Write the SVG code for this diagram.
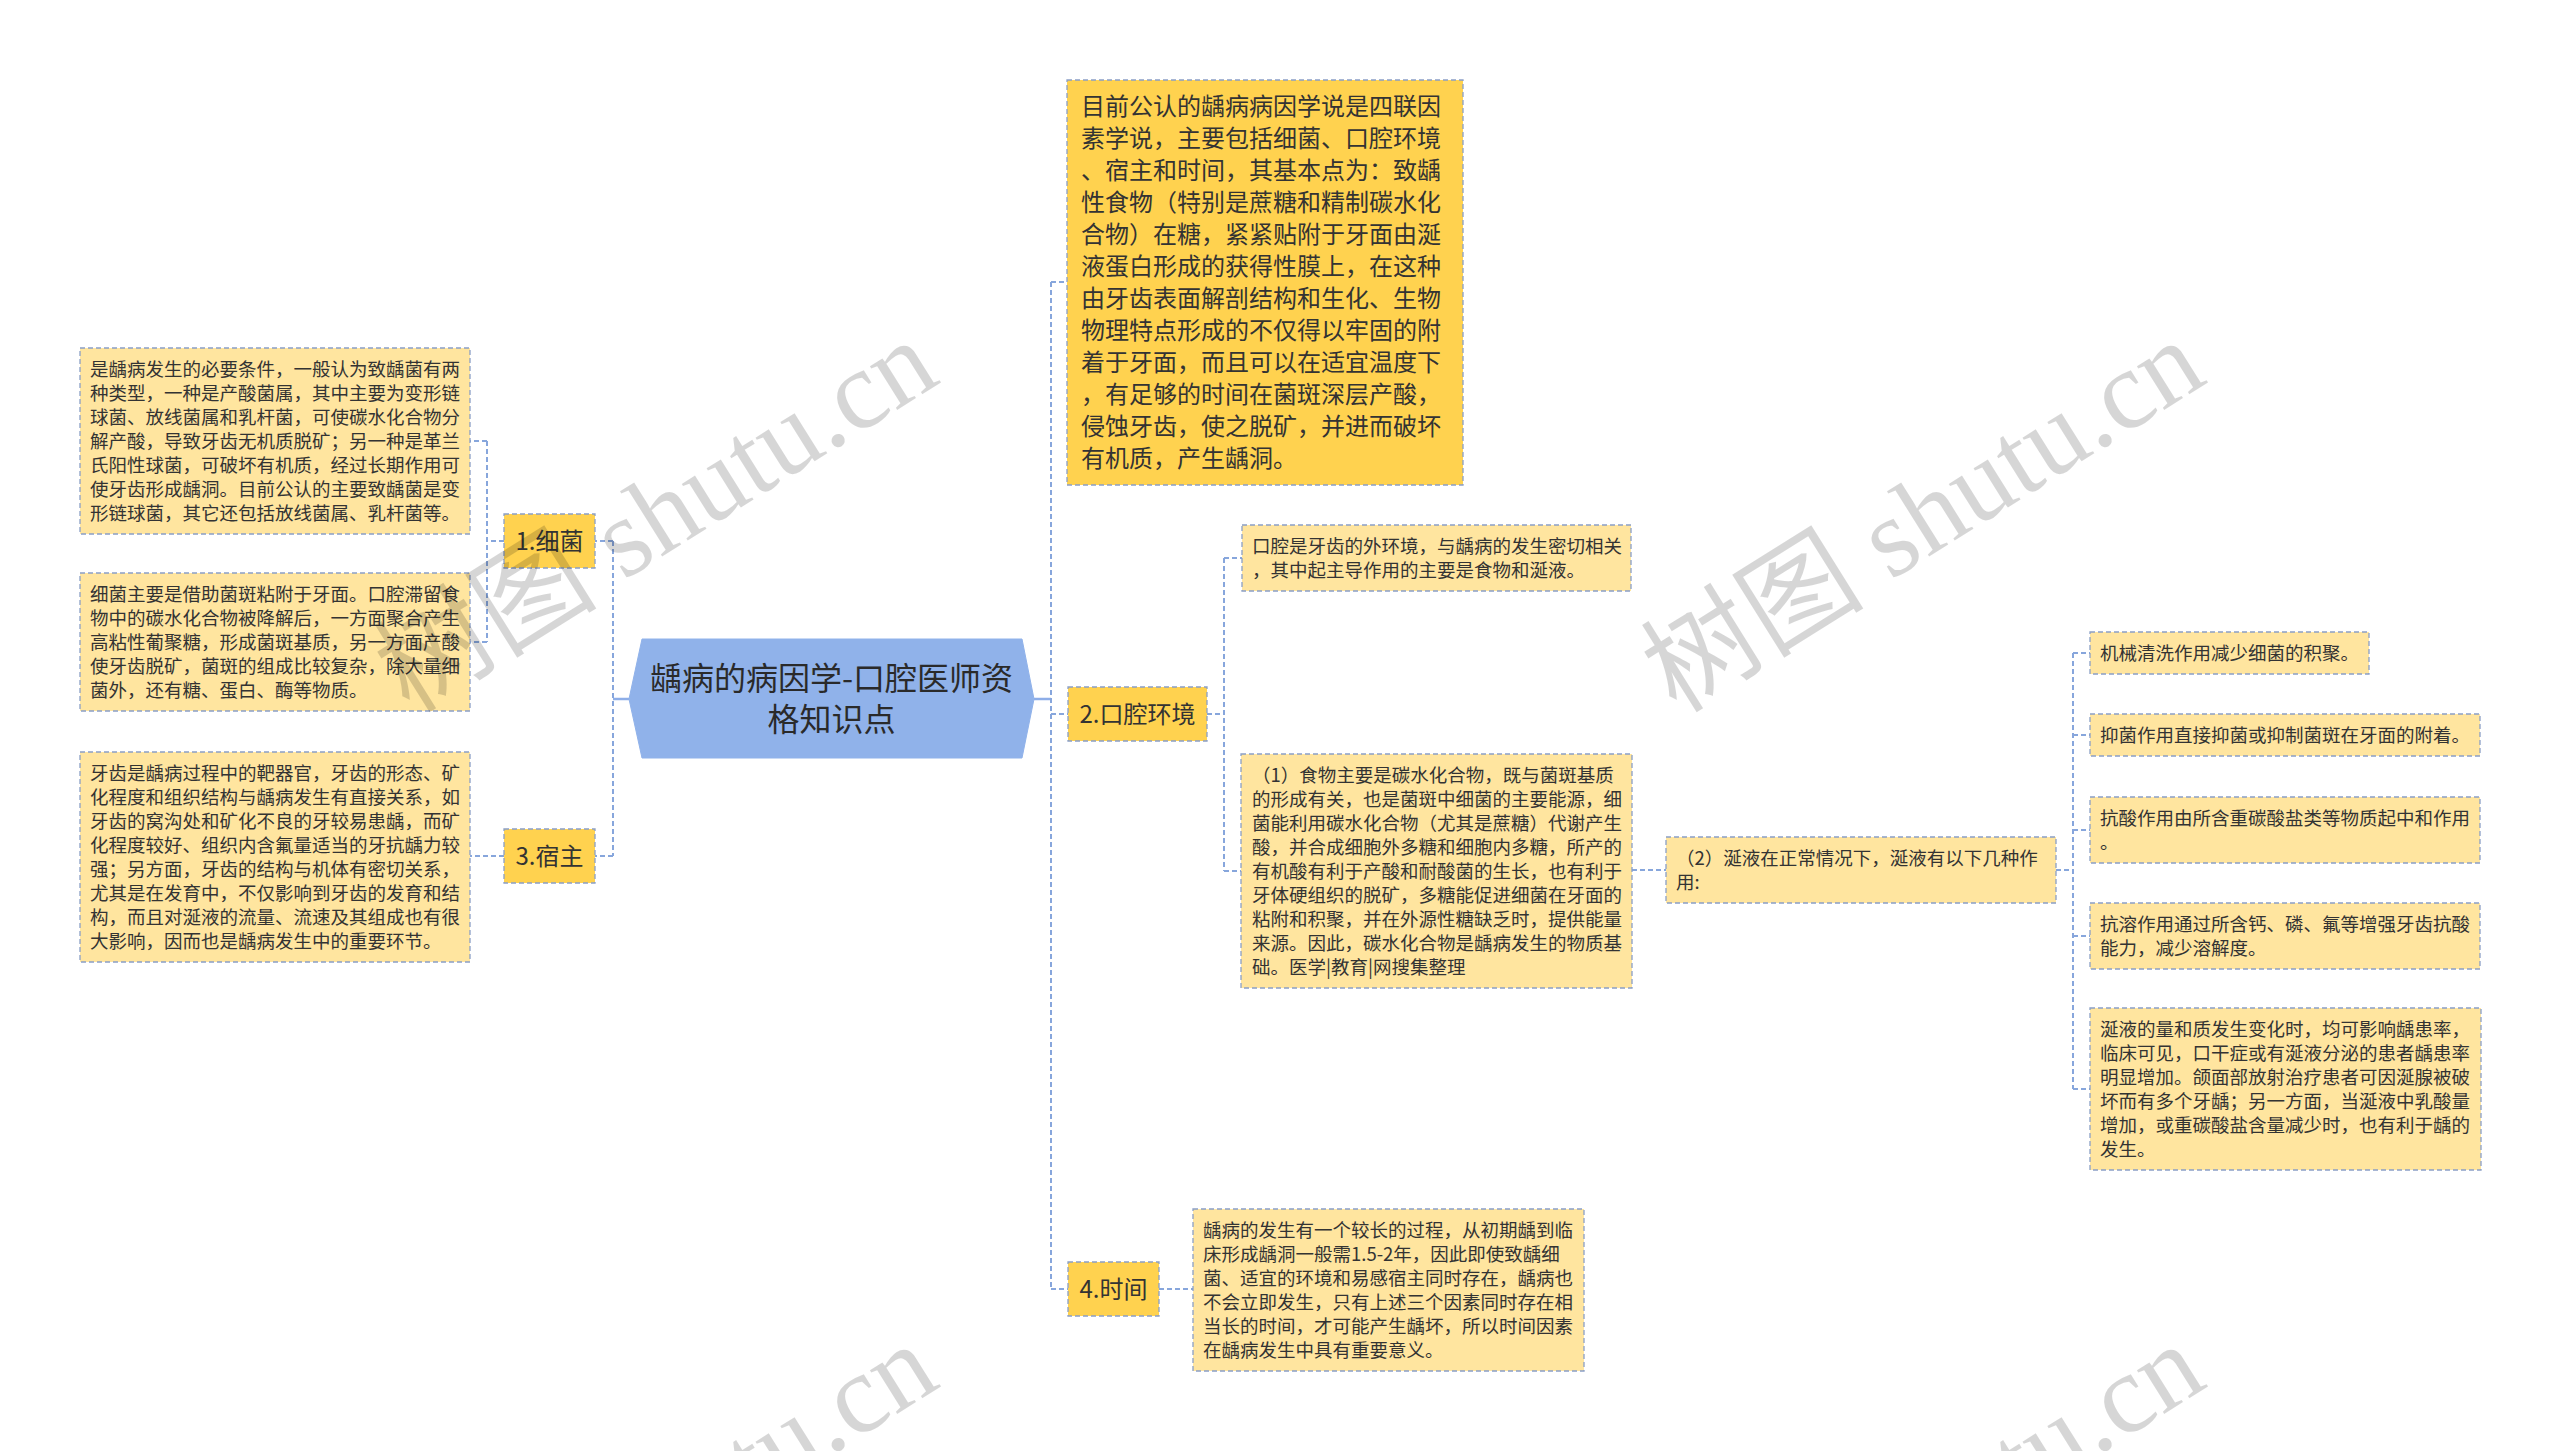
<svg xmlns="http://www.w3.org/2000/svg" width="2560" height="1451" viewBox="0 0 2560 1451">
<style>
.bg{fill:#ffffff}
.lt{fill:#FFE59F;stroke:#8A9FC6;stroke-width:1.3;stroke-dasharray:5 3}
.gd{fill:#FFD24F;stroke:#8A9FC6;stroke-width:1.3;stroke-dasharray:5 3}
.root{fill:#90B2EA;stroke:#90B2EA;stroke-width:1}
.t{font-family:"Microsoft YaHei","Noto Sans CJK SC",sans-serif;font-size:18.5px;fill:#333333}
.t24{font-family:"Microsoft YaHei","Noto Sans CJK SC",sans-serif;font-size:24px;fill:#333333}
.tr{font-family:"Microsoft YaHei","Noto Sans CJK SC",sans-serif;font-size:32px;fill:#2a2a2a}
.c{fill:none;stroke:#87A6DC;stroke-width:2;stroke-dasharray:5 3}
.cs{fill:none;stroke:#8EAEE8;stroke-width:2.5}
.wm{font-family:"Liberation Serif","Noto Sans CJK SC",serif;font-size:112px;fill:#000000;fill-opacity:0.16}
</style>
<rect class="bg" x="0" y="0" width="2560" height="1451"/>

<g id="connectors">
<path class="cs" d="M629,699 H613"/>
<path class="c" d="M613,541 V856"/>
<path class="c" d="M613,541 H595"/>
<path class="c" d="M613,856 H595"/>
<path class="c" d="M504,541 H487"/>
<path class="c" d="M487,441 V642"/>
<path class="c" d="M487,441 H470"/>
<path class="c" d="M487,642 H470"/>
<path class="c" d="M504,856 H470"/>
<path class="cs" d="M1034,699 H1051"/>
<path class="c" d="M1051,282 V1289"/>
<path class="c" d="M1051,282 H1067"/>
<path class="c" d="M1051,714 H1068"/>
<path class="c" d="M1051,1289 H1068"/>
<path class="c" d="M1207,714 H1224"/>
<path class="c" d="M1224,558 V871"/>
<path class="c" d="M1224,558 H1242"/>
<path class="c" d="M1224,871 H1241"/>
<path class="c" d="M1632,870 H1666"/>
<path class="c" d="M2056,870 H2073"/>
<path class="c" d="M2073,653 V1089"/>
<path class="c" d="M2073,653 H2090"/>
<path class="c" d="M2073,735 H2090"/>
<path class="c" d="M2073,830 H2090"/>
<path class="c" d="M2073,936 H2090"/>
<path class="c" d="M2073,1089 H2090"/>
<path class="c" d="M1159,1289 H1193"/>
</g>

<g id="root">
<polygon class="root" points="629,699 642,639 1022,639 1034,699 1022,758 642,758"/>
<text class="tr" text-anchor="middle"><tspan x="831.5" y="689.5">龋病的病因学-口腔医师资</tspan><tspan x="831.5" y="730.5">格知识点</tspan></text>
</g>

<g id="n-bacteria">
<rect class="gd" x="504" y="514" width="91" height="54"/>
<text class="t24" x="549.5" y="549.6" text-anchor="middle">1.细菌</text>
</g>
<g id="n-bacteria-1">
<rect class="lt" x="80" y="348" width="390" height="186"/>
<text class="t"><tspan x="90" y="375.7">是龋病发生的必要条件，一般认为致龋菌有两</tspan><tspan x="90" y="399.7">种类型，一种是产酸菌属，其中主要为变形链</tspan><tspan x="90" y="423.7">球菌、放线菌属和乳杆菌，可使碳水化合物分</tspan><tspan x="90" y="447.7">解产酸，导致牙齿无机质脱矿；另一种是革兰</tspan><tspan x="90" y="471.7">氏阳性球菌，可破坏有机质，经过长期作用可</tspan><tspan x="90" y="495.7">使牙齿形成龋洞。目前公认的主要致龋菌是变</tspan><tspan x="90" y="519.7">形链球菌，其它还包括放线菌属、乳杆菌等。</tspan></text>
</g>
<g id="n-bacteria-2">
<rect class="lt" x="80" y="573" width="390" height="138"/>
<text class="t"><tspan x="90" y="600.7">细菌主要是借助菌斑粘附于牙面。口腔滞留食</tspan><tspan x="90" y="624.7">物中的碳水化合物被降解后，一方面聚合产生</tspan><tspan x="90" y="648.7">高粘性葡聚糖，形成菌斑基质，另一方面产酸</tspan><tspan x="90" y="672.7">使牙齿脱矿，菌斑的组成比较复杂，除大量细</tspan><tspan x="90" y="696.7">菌外，还有糖、蛋白、酶等物质。</tspan></text>
</g>

<g id="n-host">
<rect class="gd" x="504" y="829" width="91" height="54"/>
<text class="t24" x="549.5" y="864.6" text-anchor="middle">3.宿主</text>
</g>
<g id="n-host-1">
<rect class="lt" x="80" y="752" width="390" height="210"/>
<text class="t"><tspan x="90" y="779.7">牙齿是龋病过程中的靶器官，牙齿的形态、矿</tspan><tspan x="90" y="803.7">化程度和组织结构与龋病发生有直接关系，如</tspan><tspan x="90" y="827.7">牙齿的窝沟处和矿化不良的牙较易患龋，而矿</tspan><tspan x="90" y="851.7">化程度较好、组织内含氟量适当的牙抗龋力较</tspan><tspan x="90" y="875.7">强；另方面，牙齿的结构与机体有密切关系，</tspan><tspan x="90" y="899.7">尤其是在发育中，不仅影响到牙齿的发育和结</tspan><tspan x="90" y="923.7">构，而且对涎液的流量、流速及其组成也有很</tspan><tspan x="90" y="947.7">大影响，因而也是龋病发生中的重要环节。</tspan></text>
</g>

<g id="n-summary">
<rect class="gd" x="1067" y="80" width="396" height="405"/>
<text class="t24"><tspan x="1081" y="115.1">目前公认的龋病病因学说是四联因</tspan><tspan x="1081" y="147.1">素学说，主要包括细菌、口腔环境</tspan><tspan x="1081" y="179.1">、宿主和时间，其基本点为：致龋</tspan><tspan x="1081" y="211.1">性食物（特别是蔗糖和精制碳水化</tspan><tspan x="1081" y="243.1">合物）在糖，紧紧贴附于牙面由涎</tspan><tspan x="1081" y="275.1">液蛋白形成的获得性膜上，在这种</tspan><tspan x="1081" y="307.1">由牙齿表面解剖结构和生化、生物</tspan><tspan x="1081" y="339.1">物理特点形成的不仅得以牢固的附</tspan><tspan x="1081" y="371.1">着于牙面，而且可以在适宜温度下</tspan><tspan x="1081" y="403.1">，有足够的时间在菌斑深层产酸，</tspan><tspan x="1081" y="435.1">侵蚀牙齿，使之脱矿，并进而破坏</tspan><tspan x="1081" y="467.1">有机质，产生龋洞。</tspan></text>
</g>

<g id="n-oral">
<rect class="gd" x="1068" y="687" width="139" height="54"/>
<text class="t24" x="1137.5" y="722.6" text-anchor="middle">2.口腔环境</text>
</g>
<g id="n-oral-1">
<rect class="lt" x="1242" y="525" width="389" height="66"/>
<text class="t"><tspan x="1252" y="552.7">口腔是牙齿的外环境，与龋病的发生密切相关</tspan><tspan x="1252" y="576.7">，其中起主导作用的主要是食物和涎液。</tspan></text>
</g>
<g id="n-oral-2">
<rect class="lt" x="1241" y="754" width="391" height="234"/>
<text class="t"><tspan x="1252" y="781.7">（1）食物主要是碳水化合物，既与菌斑基质</tspan><tspan x="1252" y="805.7">的形成有关，也是菌斑中细菌的主要能源，细</tspan><tspan x="1252" y="829.7">菌能利用碳水化合物（尤其是蔗糖）代谢产生</tspan><tspan x="1252" y="853.7">酸，并合成细胞外多糖和细胞内多糖，所产的</tspan><tspan x="1252" y="877.7">有机酸有利于产酸和耐酸菌的生长，也有利于</tspan><tspan x="1252" y="901.7">牙体硬组织的脱矿，多糖能促进细菌在牙面的</tspan><tspan x="1252" y="925.7">粘附和积聚，并在外源性糖缺乏时，提供能量</tspan><tspan x="1252" y="949.7">来源。因此，碳水化合物是龋病发生的物质基</tspan><tspan x="1252" y="973.7">础。医学|教育|网搜集整理</tspan></text>
</g>
<g id="n-saliva">
<rect class="lt" x="1666" y="837" width="390" height="66"/>
<text class="t"><tspan x="1676" y="864.7">（2）涎液在正常情况下，涎液有以下几种作</tspan><tspan x="1676" y="888.7">用:</tspan></text>
</g>
<g id="n-saliva-1">
<rect class="lt" x="2090" y="632" width="279" height="42"/>
<text class="t" x="2100" y="659.7">机械清洗作用减少细菌的积聚。</text>
</g>
<g id="n-saliva-2">
<rect class="lt" x="2090" y="714" width="390" height="42"/>
<text class="t" x="2100" y="741.7">抑菌作用直接抑菌或抑制菌斑在牙面的附着。</text>
</g>
<g id="n-saliva-3">
<rect class="lt" x="2090" y="797" width="390" height="66"/>
<text class="t"><tspan x="2100" y="824.7">抗酸作用由所含重碳酸盐类等物质起中和作用</tspan><tspan x="2100" y="848.7">。</tspan></text>
</g>
<g id="n-saliva-4">
<rect class="lt" x="2090" y="903" width="390" height="66"/>
<text class="t"><tspan x="2100" y="930.7">抗溶作用通过所含钙、磷、氟等增强牙齿抗酸</tspan><tspan x="2100" y="954.7">能力，减少溶解度。</tspan></text>
</g>
<g id="n-saliva-5">
<rect class="lt" x="2090" y="1008" width="391" height="162"/>
<text class="t"><tspan x="2100" y="1035.7">涎液的量和质发生变化时，均可影响龋患率，</tspan><tspan x="2100" y="1059.7">临床可见，口干症或有涎液分泌的患者龋患率</tspan><tspan x="2100" y="1083.7">明显增加。颌面部放射治疗患者可因涎腺被破</tspan><tspan x="2100" y="1107.7">坏而有多个牙龋；另一方面，当涎液中乳酸量</tspan><tspan x="2100" y="1131.7">增加，或重碳酸盐含量减少时，也有利于龋的</tspan><tspan x="2100" y="1155.7">发生。</tspan></text>
</g>

<g id="n-time">
<rect class="gd" x="1068" y="1262" width="91" height="54"/>
<text class="t24" x="1113.5" y="1297.6" text-anchor="middle">4.时间</text>
</g>
<g id="n-time-1">
<rect class="lt" x="1193" y="1209" width="391" height="162"/>
<text class="t"><tspan x="1203" y="1236.7">龋病的发生有一个较长的过程，从初期龋到临</tspan><tspan x="1203" y="1260.7">床形成龋洞一般需1.5-2年，因此即使致龋细</tspan><tspan x="1203" y="1284.7">菌、适宜的环境和易感宿主同时存在，龋病也</tspan><tspan x="1203" y="1308.7">不会立即发生，只有上述三个因素同时存在相</tspan><tspan x="1203" y="1332.7">当长的时间，才可能产生龋坏，所以时间因素</tspan><tspan x="1203" y="1356.7">在龋病发生中具有重要意义。</tspan></text>
</g>

<g id="watermarks">
<text class="wm" text-anchor="middle" transform="translate(676,548) rotate(-32)">树图 shutu.cn</text>
<text class="wm" text-anchor="middle" transform="translate(1943,548) rotate(-32)">树图 shutu.cn</text>
<text class="wm" text-anchor="middle" transform="translate(676,1552) rotate(-32)">树图 shutu.cn</text>
<text class="wm" text-anchor="middle" transform="translate(1943,1552) rotate(-32)">树图 shutu.cn</text>
</g>
</svg>
